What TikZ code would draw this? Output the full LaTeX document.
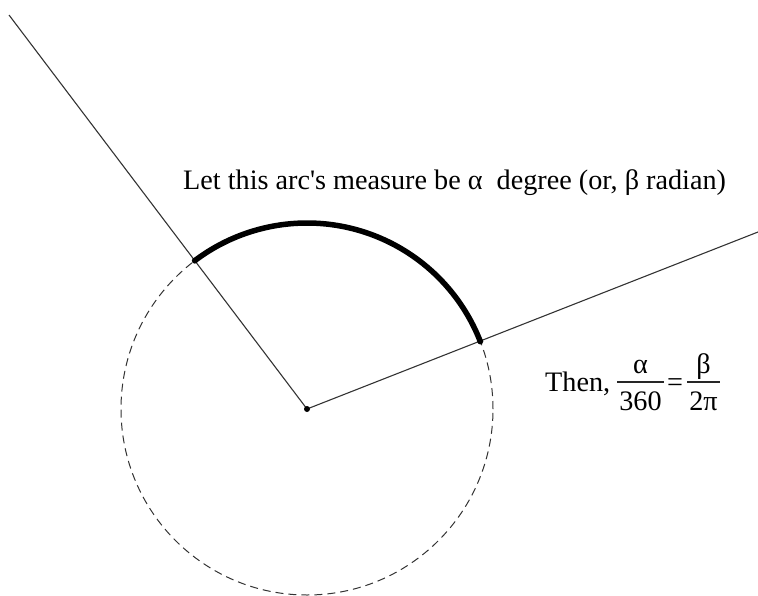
\documentclass[tikz,border=0pt]{standalone}
\usepackage{fontspec}
\setmainfont{Liberation Serif}
\usetikzlibrary{calc}
\begin{document}
\begin{tikzpicture}[x=1pt,y=-1pt,
  ray/.style={draw=black!80, line width=1.1pt},
  dot/.style={circle, fill=black, inner sep=0pt, minimum size=6pt},
  lbl/.style={font=\fontsize{28.2}{32}\selectfont, inner sep=0pt},
  bar/.style={draw=black!85, line width=1.1pt}]
\useasboundingbox (0,0) rectangle (758,595);
\coordinate (O) at (307,409);
\coordinate (A) at ($(O)+(127.1:186pt)$);
\coordinate (B) at ($(O)+(21.3:186pt)$);
\coordinate (E1) at (9,15);
\coordinate (E2) at (758,232);
\draw[black!80, line width=1pt, dash pattern=on 8pt off 5pt] (O) circle[radius=186pt];
\draw[ray] (O) -- (E1);
\draw[ray] (O) -- (E2);
\draw[line width=5.5pt] (A) arc[start angle=127.1, end angle=21.3, radius=186pt];
\node[dot] (dO) at (O) {};
\node[dot] (dA) at (A) {};
\node[dot] (dB) at (B) {};
\node[lbl, anchor=base west] (t1) at (183,189) {Let this arc\textquotesingle s measure be α\ \ degree (or, β radian)};
\node[lbl, anchor=base west] (t2) at (545,391) {Then,};
\node[lbl, anchor=base] (n1) at (640.5,373) {α};
\node[lbl, anchor=base] (d1) at (640.5,410) {360};
\node[lbl, anchor=base] (eq) at (675,391) {=};
\node[lbl, anchor=base] (n2) at (703.5,373) {β};
\node[lbl, anchor=base] (d2) at (703.5,410) {2π};
\coordinate (b1l) at (617,382); \coordinate (b1r) at (664,382);
\coordinate (b2l) at (687,382); \coordinate (b2r) at (720,382);
\draw[bar] (b1l) -- (b1r);
\draw[bar] (b2l) -- (b2r);
\end{tikzpicture}
\end{document}
